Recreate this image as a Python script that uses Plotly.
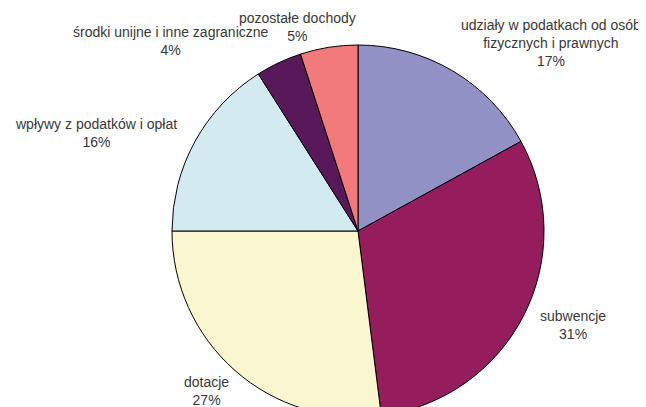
import plotly.graph_objects as go

# Data
categories = [
    "udziały w podatkach od osób<br>fizycznych i prawnych",
    "subwencje",
    "dotacje",
    "wpływy z podatków i opłat",
    "środki unijne i inne zagraniczne",
    "pozostałe dochody",
]
values = [17, 31, 27, 16, 4, 5]

# Styles
colors = ["#9191C6", "#951D5D", "#FAF6D0", "#D3EAF1", "#59185A", "#F27A7A"]

OFF = 8  # page body margin
W, H = 646, 417
cx, cy, r = 358 - OFF, 231 - OFF, 186  # pie centre / radius in px (figure coords)

# label block centres in page px
label_pos = [(551, 43), (573, 325), (206, 391), (96, 133), (171, 41), (297, 27)]

fig = go.Figure(go.Pie(
    labels=categories,
    values=values,
    sort=False,
    direction="clockwise",
    rotation=0,
    textinfo="none",
    hoverinfo="label+percent",
    marker=dict(colors=colors, line=dict(color="#000000", width=1)),
    domain=dict(x=[(cx - r) / W, (cx + r) / W], y=[(H - cy - r) / H, (H - cy + r) / H]),
    showlegend=False,
))

total = sum(values)
for (lab, v), (px, py) in zip(zip(categories, values), label_pos):
    fig.add_annotation(
        x=(px - OFF) / W, y=1 - (py - OFF) / H, xref="paper", yref="paper",
        text=f"{lab}<br>{round(100 * v / total)}%",
        showarrow=False, xanchor="center", yanchor="middle",
        font=dict(family="Liberation Sans, Arial, sans-serif", size=14, color="#383838"),
    )

fig.update_layout(
    width=W, height=H,
    margin=dict(l=0, r=0, t=0, b=0),
    paper_bgcolor="white", plot_bgcolor="white",
)

fig.write_html("out.html")
